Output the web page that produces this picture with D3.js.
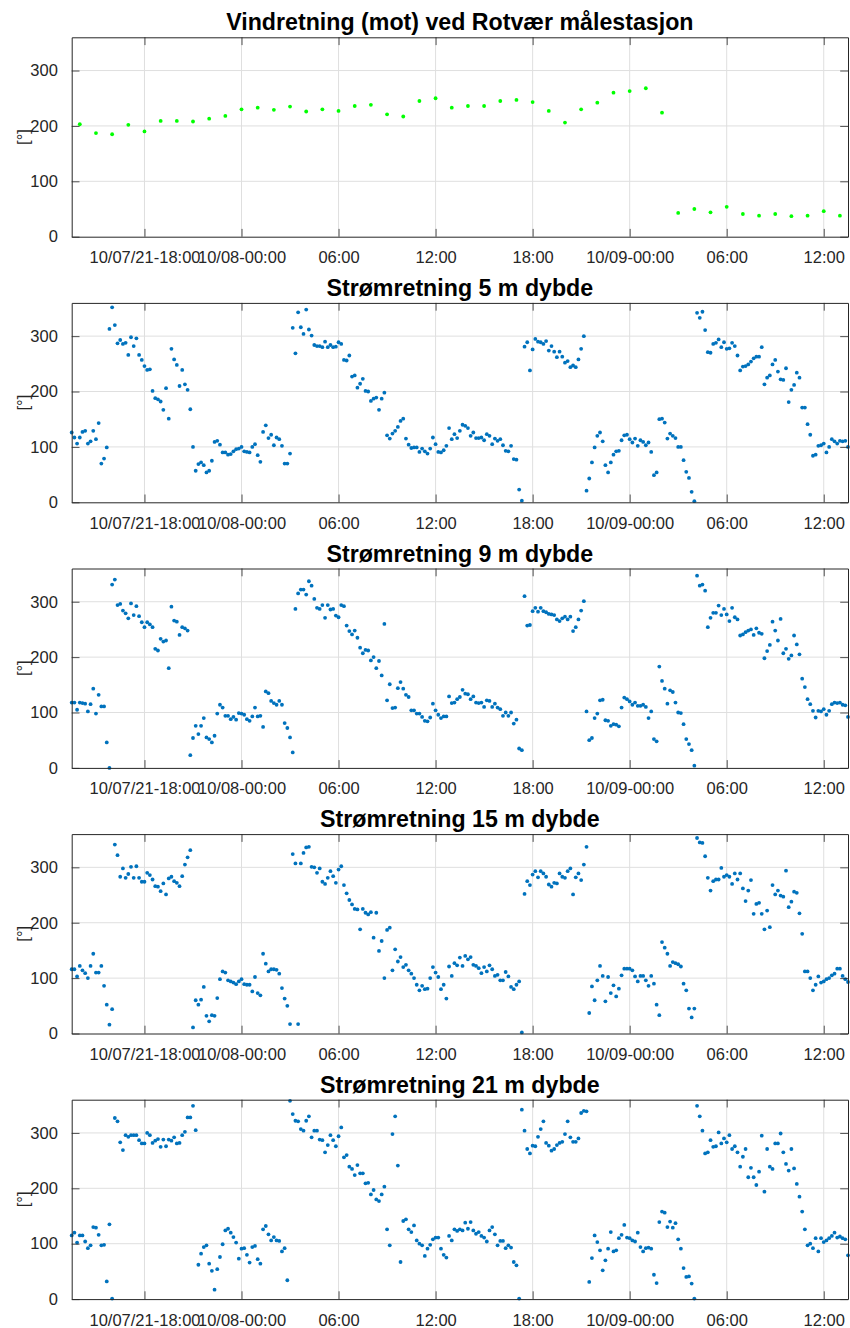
<!DOCTYPE html>
<html>
<head>
<meta charset="utf-8">
<script src="https://cdn.jsdelivr.net/npm/d3@7"></script>
<style>
  body { margin: 0; background: #fff; }
  svg { display: block; font-family: "Liberation Sans", Arial, Helvetica, sans-serif; }
</style>
</head>
<body>
<script>
const width = 850;
const height = 1328;

// titles of the five panels
const titles = [
  "Vindretning (mot) ved Rotvær målestasjon",
  "Strømretning 5 m dybde",
  "Strømretning 9 m dybde",
  "Strømretning 15 m dybde",
  "Strømretning 21 m dybde"
];

const yTicks = [0, 100, 200, 300];
const xTickTimes = [
  Date.UTC(2021, 9, 7, 18), Date.UTC(2021, 9, 8, 0), Date.UTC(2021, 9, 8, 6),
  Date.UTC(2021, 9, 8, 12), Date.UTC(2021, 9, 8, 18), Date.UTC(2021, 9, 9, 0),
  Date.UTC(2021, 9, 9, 6), Date.UTC(2021, 9, 9, 12)
];
const xTickLabels = ["10/07/21-18:00", "10/08-00:00", "06:00", "12:00", "18:00", "10/09-00:00", "06:00", "12:00"];

// hourly wind direction, from 10/07 14:00
const windStart = Date.UTC(2021, 9, 7, 14, 0);
const wind = [
  203, 187, 185, 202, 190, 209, 209, 208, 213, 218, 230, 233, 229, 235, 226, 230, 227, 236, 238, 221, 217, 245,
  250, 233, 236, 236, 245, 247, 243, 227, 206, 230, 242, 260, 263, 268, 224,
  43, 50, 44, 54, 41, 38, 41, 37, 38, 46, 38
];

// 10-minute current direction, from 10/07 13:30
const curStart = Date.UTC(2021, 9, 7, 13, 30);
const cur5 = [
  126,117,106,117,127,129,106,110,129,114,143,70,79,99,313,352,320,287,293,286,
  288,266,298,282,296,266,257,246,239,240,201,188,186,182,167,206,151,277,258,248,
  210,239,213,203,168,100,57,69,72,67,54,57,75,109,111,104,90,90,86,87,
  92,96,97,100,92,91,90,100,105,85,73,127,139,116,122,103,117,114,102,70,
  70,88,
  315,269,343,316,304,348,312,301,284,282,282,280,290,280,284,280,281,289,286,257,
  256,265,227,229,207,214,223,201,200,183,187,189,167,187,198,121,115,124,129,136,
  147,151,115,104,98,99,99,91,97,92,88,97,117,105,91,90,94,102,134,
  114,123,116,129,140,138,134,120,126,116,116,117,112,123,120,105,115,111,114,103,
  93,92,102,78,77,23,3,281,289,238,276,295,290,289,286,291,274,282,272,262,
  272,263,252,255,244,247,244,258,277,300,21,43,72,99,120,126,110,67,54,72,
  86,92,93,112,121,122,114,108,115,102,112,109,103,108,91,49,54,150,151,
  144,115,124,120,116,100,100,76,55,44,19,2,342,333,344,311,271,270,286,288,
  294,280,289,277,278,288,282,265,238,245,246,249,254,260,263,263,280,213,225,229,
  249,257,236,222,221,242,181,203,212,234,225,171,171,141,122,84,86,102,103,106,
  90,100,114,110,106,111,110,111,100
];
const cur9 = [
  118,118,105,118,117,116,102,115,143,98,132,111,111,46,0,331,340,294,296,284,
  279,270,297,276,292,274,263,254,263,259,254,215,212,233,228,230,180,291,266,264,
  240,254,252,248,23,54,76,61,76,90,55,52,46,58,98,114,109,94,94,88,
  92,87,99,98,96,88,85,93,109,93,94,74,138,135,121,117,114,121,114,81,
  72,55,28,287,315,322,322,313,337,329,305,289,287,294,271,294,286,287,275,272,
  294,292,257,247,241,248,235,217,207,213,212,194,200,180,193,167,260,122,151,108,
  109,144,155,143,132,128,104,104,98,98,92,85,84,91,116,104,96,90,93,93,
  129,
  117,118,124,128,141,134,133,124,129,118,117,118,110,122,121,110,116,109,106,94,
  100,94,100,80,87,35,32,310,257,258,283,289,282,289,283,281,278,277,276,268,
  265,270,273,268,273,247,254,268,284,301,102,50,54,90,98,122,123,86,85,76,
  79,78,75,109,127,124,120,114,118,112,112,114,110,90,102,52,48,183,157,
  143,116,140,137,118,100,99,79,52,43,32,4,347,329,331,320,254,271,280,280,
  293,276,287,277,265,289,272,268,239,241,245,248,250,240,252,244,242,198,211,222,
  264,248,230,269,207,215,197,203,239,223,205,161,146,124,115,103,91,103,102,106,
  96,103,115,118,117,118,114,113,92
];
const cur15 = [
  116,116,103,122,114,109,100,122,144,110,110,122,86,52,16,44,341,322,283,298,
  281,288,301,281,302,281,274,274,290,286,278,266,265,257,271,251,280,283,275,272,
  266,284,305,318,331,11,60,52,61,84,32,22,33,32,64,98,112,110,96,94,
  92,89,94,98,89,88,88,76,102,73,69,144,126,112,116,116,115,108,82,63,
  50,
  17,324,307,17,307,326,336,337,301,300,290,298,274,270,281,293,284,272,296,302,
  268,253,241,233,225,224,188,225,218,215,219,173,218,149,167,100,187,191,114,152,
  130,138,120,124,114,108,100,88,78,86,80,81,100,120,110,102,80,88,63,121,
  104,127,123,137,
  122,140,134,138,124,122,118,109,120,112,123,116,104,106,96,96,111,103,84,80,
  88,94,2,252,275,268,287,293,282,293,289,283,269,265,272,271,289,283,281,293,
  298,251,282,289,277,305,337,37,85,60,96,122,104,58,102,73,87,67,81,105,
  117,117,117,114,103,94,104,104,96,86,104,90,52,33,165,155,144,122,129,127,
  125,121,90,78,45,29,45,353,345,344,320,281,258,275,278,278,299,283,286,283,
  270,289,278,289,262,239,258,277,216,234,236,216,188,222,192,268,251,258,249,247,
  294,228,238,256,254,217,180,112,112,100,78,88,103,92,94,98,100,105,108,117,
  117,104,98,93
];
const cur21 = [
  115,120,102,115,115,104,92,97,130,129,116,97,98,32,135,1,327,321,283,269,
  296,293,296,296,296,287,281,281,300,296,282,286,289,275,288,276,288,286,292,281,
  282,296,302,328,328,349,305,62,82,94,97,64,51,17,54,76,99,124,127,120,
  112,102,73,91,92,80,66,94,96,72,64,126,132,117,106,112,106,105,86,92,
  34,
  358,334,322,321,307,304,322,330,292,304,304,288,287,265,278,296,287,276,294,310,
  256,260,239,235,224,242,227,227,209,210,189,197,180,177,189,203,126,97,298,330,
  241,67,141,144,126,121,133,106,100,97,78,91,98,108,111,111,91,80,75,114,
  106,126,123,126,
  124,138,127,139,124,118,121,114,111,104,124,130,117,97,105,105,92,97,93,67,
  61,1,342,304,271,263,277,276,293,307,321,282,277,268,271,278,282,284,298,
  321,292,284,284,290,336,340,339,31,74,115,103,88,52,70,91,121,86,88,110,
  116,134,111,110,106,104,120,94,86,92,93,91,44,29,139,158,156,130,140,129,
  137,108,91,56,40,41,28,1,349,330,304,263,265,287,275,276,301,281,290,283,
  296,271,276,265,239,257,271,220,237,220,206,230,295,194,271,239,235,281,281,299,
  265,244,232,271,236,208,185,158,126,97,100,92,110,86,110,103,106,110,114,120,
  111,113,110,108,79
];

const HOUR = 3600e3;
const toPoints = (vals, start, step) => vals.map((v, i) => ({ t: start + i * step, v }));

const panels = [
  { title: titles[0], pts: toPoints(wind, windStart, HOUR), color: "#00ff00" },
  { title: titles[1], pts: toPoints(cur5, curStart, HOUR / 6), color: "#0072bd" },
  { title: titles[2], pts: toPoints(cur9, curStart, HOUR / 6), color: "#0072bd" },
  { title: titles[3], pts: toPoints(cur15, curStart, HOUR / 6), color: "#0072bd" },
  { title: titles[4], pts: toPoints(cur21, curStart, HOUR / 6), color: "#0072bd" }
];

const left = 71.7, right = 848, top0 = 37.3, step = 265.6, ph = 199.4;
const tickLen = 7.8;
const axisColor = "#262626";

const x = d3.scaleUtc()
  .domain([new Date(Date.UTC(2021, 9, 7, 13, 30)), new Date(Date.UTC(2021, 9, 9, 13, 30))])
  .range([left, right]);
const [t0, t1] = x.domain().map(d => +d);

const svg = d3.select("body").append("svg")
  .attr("width", width)
  .attr("height", height)
  .attr("viewBox", [0, 0, width, height]);

svg.append("rect").attr("width", width).attr("height", height).attr("fill", "#fff");

panels.forEach((p, i) => {
  const top = top0 + i * step;
  const bottom = top + ph;
  const y = d3.scaleLinear().domain([0, 360]).range([bottom, top]);
  const g = svg.append("g");

  // grid
  g.append("g").selectAll("line").data(xTickTimes).join("line")
    .attr("x1", d => x(d)).attr("x2", d => x(d))
    .attr("y1", top).attr("y2", bottom)
    .attr("stroke", "#dfdfdf").attr("stroke-width", 1);
  g.append("g").selectAll("line").data(yTicks.filter(d => d > 0)).join("line")
    .attr("x1", left).attr("x2", right)
    .attr("y1", d => y(d)).attr("y2", d => y(d))
    .attr("stroke", "#dfdfdf").attr("stroke-width", 1);

  // points
  g.append("g").selectAll("circle")
    .data(p.pts.filter(d => d.t >= t0 && d.t <= t1))
    .join("circle")
      .attr("cx", d => x(d.t))
      .attr("cy", d => y(d.v))
      .attr("r", 1.9)
      .attr("fill", p.color);

  // axes (ticks inward on all four sides, like a boxed matlab axes)
  const xb = d3.axisBottom(x).tickValues(xTickTimes.map(d => new Date(d)))
    .tickSizeInner(-tickLen).tickSizeOuter(0).tickPadding(tickLen + 7)
    .tickFormat((d, k) => xTickLabels[k]);
  const xt = d3.axisTop(x).tickValues(xTickTimes.map(d => new Date(d)))
    .tickSizeInner(-tickLen).tickSizeOuter(0).tickFormat("");
  const yl = d3.axisLeft(y).tickValues(yTicks)
    .tickSizeInner(-tickLen).tickSizeOuter(0).tickPadding(tickLen + 6);
  const yr = d3.axisRight(y).tickValues(yTicks)
    .tickSizeInner(-tickLen).tickSizeOuter(0).tickFormat("");

  const axes = [
    g.append("g").attr("transform", `translate(0,${bottom})`).call(xb),
    g.append("g").attr("transform", `translate(0,${top})`).call(xt),
    g.append("g").attr("transform", `translate(${left},0)`).call(yl),
    g.append("g").attr("transform", `translate(${right},0)`).call(yr)
  ];
  axes.forEach(a => {
    a.selectAll(".domain").attr("stroke", axisColor).attr("stroke-width", 1);
    a.selectAll(".tick line").attr("stroke", axisColor).attr("stroke-width", 0.8);
    a.selectAll(".tick text")
      .attr("fill", axisColor)
      .attr("font-size", 16.5)
      .attr("font-family", "Liberation Sans, Arial, Helvetica, sans-serif");
  });

  // y label
  g.append("text")
    .attr("transform", `translate(23,${(top + bottom) / 2}) rotate(-90)`)
    .attr("text-anchor", "middle")
    .attr("dy", "0.35em")
    .attr("font-size", 16.5)
    .attr("fill", axisColor)
    .text("[°]");

  // title
  g.append("text")
    .attr("x", (left + right) / 2)
    .attr("y", top - 7)
    .attr("text-anchor", "middle")
    .attr("font-size", 23.2)
    .attr("font-weight", "bold")
    .attr("fill", "#000")
    .text(p.title);
});
</script>
</body>
</html>
